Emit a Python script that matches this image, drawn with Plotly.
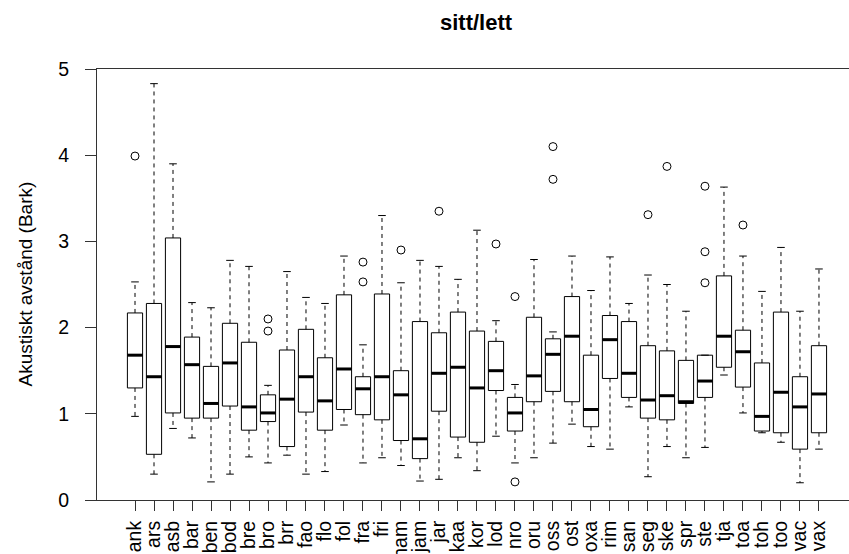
import plotly.graph_objects as go

cats = ["ank", "ars", "asb", "bar", "ben", "bod", "bre", "bro", "brr", "fao",
        "flo", "fol", "fra", "fri", "ham", "jam", "jar", "kaa", "kor", "lod",
        "nro", "oru", "oss", "ost", "oxa", "rim", "san", "seg", "ske", "spr",
        "ste", "tja", "toa", "toh", "too", "vac", "vax"]

lo = [0.97, 0.30, 0.83, 0.72, 0.21, 0.30, 0.50, 0.43, 0.52, 0.30,
      0.33, 0.87, 0.43, 0.49, 0.40, 0.22, 0.24, 0.49, 0.34, 0.74,
      0.43, 0.49, 0.66, 0.88, 0.62, 0.59, 1.08, 0.27, 0.62, 0.49,
      0.61, 1.45, 1.01, 0.78, 0.67, 0.20, 0.59]
q1 = [1.30, 0.53, 1.01, 0.95, 0.95, 1.09, 0.81, 0.91, 0.62, 1.02,
      0.81, 1.05, 0.99, 0.93, 0.69, 0.48, 1.03, 0.73, 0.67, 1.27,
      0.80, 1.14, 1.26, 1.14, 0.85, 1.41, 1.19, 0.95, 0.93, 1.12,
      1.19, 1.54, 1.31, 0.80, 0.78, 0.59, 0.78]
med = [1.68, 1.43, 1.78, 1.57, 1.12, 1.59, 1.08, 1.01, 1.17, 1.43,
       1.15, 1.52, 1.29, 1.43, 1.22, 0.71, 1.47, 1.54, 1.30, 1.50,
       1.01, 1.44, 1.69, 1.90, 1.05, 1.86, 1.47, 1.16, 1.21, 1.14,
       1.38, 1.90, 1.72, 0.97, 1.25, 1.08, 1.23]
q3 = [2.17, 2.28, 3.04, 1.89, 1.55, 2.05, 1.83, 1.22, 1.74, 1.98,
      1.65, 2.38, 1.43, 2.39, 1.50, 2.07, 1.94, 2.18, 1.96, 1.84,
      1.19, 2.12, 1.87, 2.36, 1.68, 2.14, 2.07, 1.79, 1.73, 1.62,
      1.68, 2.60, 1.97, 1.59, 2.18, 1.43, 1.79]
hi = [2.53, 4.83, 3.90, 2.29, 2.23, 2.78, 2.71, 1.33, 2.65, 2.35,
      2.28, 2.83, 1.80, 3.30, 2.52, 2.78, 2.71, 2.56, 3.13, 2.08,
      1.34, 2.79, 1.95, 2.83, 2.43, 2.82, 2.28, 2.61, 2.50, 2.19,
      1.68, 3.63, 2.83, 2.42, 2.93, 2.19, 2.68]

out_cat = ["ank", "bro", "bro", "fra", "fra", "ham", "jar", "lod", "nro", "nro",
           "oss", "oss", "seg", "ske", "ste", "ste", "ste", "toa"]
out_val = [3.99, 2.10, 1.96, 2.76, 2.53, 2.90, 3.35, 2.97, 2.36, 0.21,
           4.10, 3.72, 3.31, 3.87, 3.64, 2.88, 2.52, 3.19]

y_ticks = [0, 1, 2, 3, 4, 5]
title_text = "sitt/lett"
y_title = "Akustiskt avstånd (Bark)"

FONT = "Liberation Sans, Arial, sans-serif"
LINE = "#333333"
BOXW = 0.8
CAPW = 0.2

xpos = list(range(1, len(cats) + 1))
pos = {c: i + 1 for i, c in enumerate(cats)}

fig = go.Figure()

# boxes (whiskers drawn separately as dashed lines)
fig.add_trace(go.Box(
    x=xpos, q1=q1, median=med, q3=q3, lowerfence=q1, upperfence=q3,
    width=BOXW, fillcolor="white", line=dict(color="black", width=1),
    whiskerwidth=0, boxpoints=False, showlegend=False, hoverinfo="skip"))

# dashed whiskers
wx, wy = [], []
for x, a, b, c, d in zip(xpos, lo, q1, q3, hi):
    wx += [x, x, None, x, x, None]
    wy += [b, a, None, c, d, None]
fig.add_trace(go.Scatter(x=wx, y=wy, mode="lines",
                         line=dict(color="black", width=1, dash="4px,4px"),
                         showlegend=False, hoverinfo="skip"))

# staples
sx, sy = [], []
for x, a, d in zip(xpos, lo, hi):
    sx += [x - CAPW, x + CAPW, None, x - CAPW, x + CAPW, None]
    sy += [a, a, None, d, d, None]
fig.add_trace(go.Scatter(x=sx, y=sy, mode="lines",
                         line=dict(color="black", width=1),
                         showlegend=False, hoverinfo="skip"))

# thick medians
mx, my = [], []
for x, m in zip(xpos, med):
    mx += [x - BOXW / 2, x + BOXW / 2, None]
    my += [m, m, None]
fig.add_trace(go.Scatter(x=mx, y=my, mode="lines",
                         line=dict(color="black", width=3),
                         showlegend=False, hoverinfo="skip"))

# outliers
fig.add_trace(go.Scatter(x=[pos[c] for c in out_cat], y=out_val, mode="markers",
                         marker=dict(symbol="circle-open", size=8,
                                     color="black", line=dict(width=1)),
                         showlegend=False, hoverinfo="skip"))

fig.update_layout(
    width=849, height=554,
    margin=dict(l=97, r=0, t=69, b=54, autoexpand=False),
    paper_bgcolor="white", plot_bgcolor="white",
    font=dict(family=FONT, color="black"),
    xaxis=dict(range=[-1.0, 38.58], tickmode="array", tickvals=xpos, ticktext=cats,
               tickangle=-90, ticks="outside", ticklen=10, tickcolor=LINE,
               tickfont=dict(size=19.5, color="black"),
               ticklabelstandoff=2, automargin=False,
               showline=True, mirror=True, linecolor=LINE, linewidth=1,
               showgrid=False, zeroline=False),
    yaxis=dict(range=[0, 5], tickmode="array", tickvals=y_ticks,
               ticks="outside", ticklen=11, tickcolor=LINE,
               tickfont=dict(size=19.5, color="black"),
               ticklabelstandoff=12, automargin=False,
               showline=True, mirror=False, linecolor=LINE, linewidth=1,
               showgrid=False, zeroline=False),
    annotations=[
        dict(text="<b>" + title_text + "</b>", xref="paper", yref="paper",
             x=0.504, y=1, xanchor="center", yanchor="bottom", yshift=32,
             showarrow=False, font=dict(size=22, color="black", family=FONT)),
        dict(text=y_title, xref="paper", yref="paper", x=0, y=0.5,
             xanchor="center", yanchor="middle", xshift=-72, textangle=-90,
             showarrow=False, font=dict(size=19, color="black", family=FONT)),
    ],
)

fig.write_html("out.html")
